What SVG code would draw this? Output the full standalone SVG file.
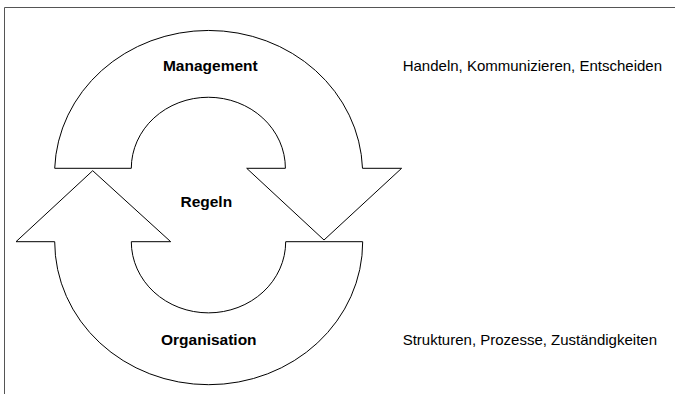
<svg xmlns="http://www.w3.org/2000/svg" width="675" height="394" viewBox="0 0 675 394">
  <style>
    .frame { stroke: #555; stroke-width: 1; fill: none; }
    .loop { fill: #fff; stroke: #000; stroke-width: 1; stroke-linejoin: miter; }
    .title { font-family: "Liberation Sans", Arial, sans-serif; font-weight: bold; font-size: 15.5px; fill: #000; text-anchor: middle; }
    .note { font-family: "Liberation Sans", Arial, sans-serif; font-size: 15px; fill: #000; }
  </style>
  <rect width="675" height="394" fill="#fff"/>
  <!-- page frame: top and left edges -->
  <g id="frame">
    <line class="frame" x1="4.5" y1="7.5" x2="675" y2="7.5"/>
    <line class="frame" x1="4.5" y1="7.5" x2="4.5" y2="394"/>
  </g>
  <g id="connectors">
    <!-- upper half-ring, arrow pointing down on the right -->
    <path id="management-arrow" class="loop" d="M131.3,168.3 L54.7,168.3 A154,143 0 0 1 362.5,168.3 L401.6,168.3 L324,240 L246.7,168.3 L285.4,168.3 A77,71 0 0 0 131.3,168.3 Z"/>
    <!-- lower half-ring, arrow pointing up on the left -->
    <path id="organisation-arrow" class="loop" d="M362.7,241.7 L285.7,241.7 A77,71 0 0 1 131.3,241.7 L170.7,241.7 L92.7,170.7 L16,241.7 L54.7,241.7 A154,143 0 0 0 362.7,241.7 Z"/>
  </g>
  <g id="management">
    <text class="title" x="210.3" y="70.5">Management</text>
  </g>
  <g id="regeln">
    <text class="title" x="206.3" y="206.8">Regeln</text>
  </g>
  <g id="organisation">
    <text class="title" x="208.8" y="345.3">Organisation</text>
  </g>
  <g id="management-note">
    <text class="note" x="402.7" y="70.8">Handeln, Kommunizieren, Entscheiden</text>
  </g>
  <g id="organisation-note">
    <text class="note" x="402.7" y="345.3">Strukturen, Prozesse, Zuständigkeiten</text>
  </g>
</svg>
